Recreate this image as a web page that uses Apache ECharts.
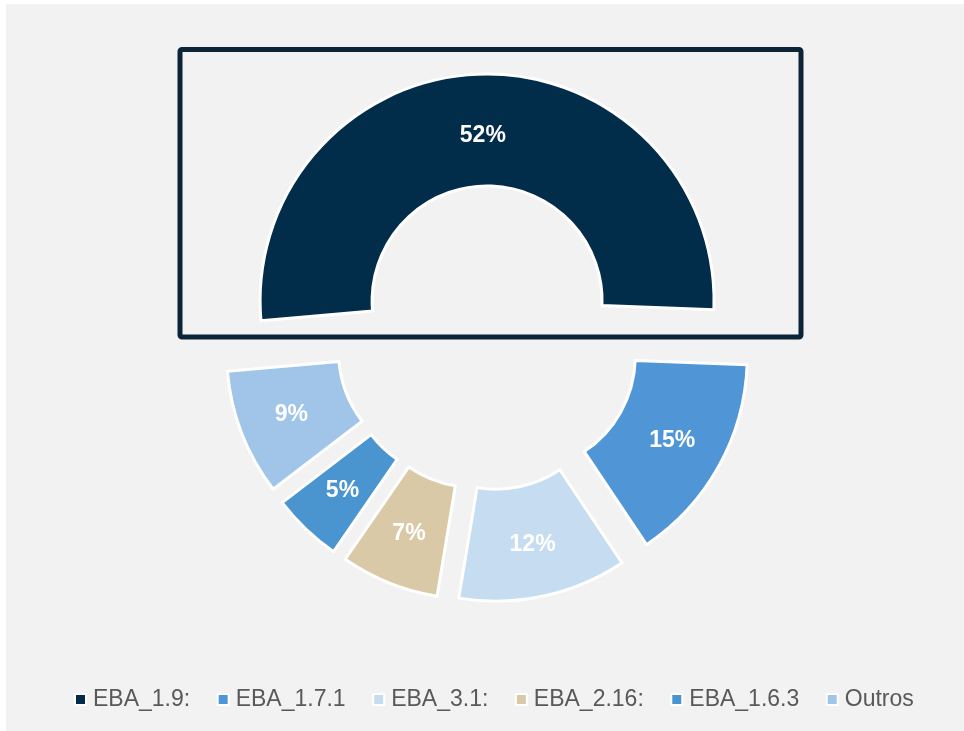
<!DOCTYPE html>
<html>
<head>
<meta charset="utf-8">
<script src="https://cdn.jsdelivr.net/npm/echarts@6/dist/echarts.min.js"></script>
<style>
  html, body { margin: 0; padding: 0; background: #fff; }
  #mychart1 { position: absolute; left: 6px; top: 4px; width: 958px; height: 727px; }
</style>
</head>
<body>
<div id="mychart1"></div>
<script>
// 数据
const categories = ['EBA_1.9:', 'EBA_1.7.1', 'EBA_3.1:', 'EBA_2.16:', 'EBA_1.6.3', 'Outros'];
const values = [52, 15, 12, 7, 5, 9];

const palette = ['#022d4a', '#5096d6', '#c6ddf1', '#d9c9a6', '#4a94d0', '#a0c5e9'];

const pieData = categories.map((name, i) => ({
  name: name,
  value: values[i],
  selected: true, // 所有扇区都分离
  itemStyle: { color: palette[i] }
}));

const option = {
  backgroundColor: '#f2f2f2',
  animation: false,
  textStyle: { fontFamily: 'Liberation Sans, Arial, sans-serif' },
  legend: {
    data: categories,
    left: 63,
    top: 679,
    icon: 'rect',
    itemWidth: 11,
    itemHeight: 11,
    itemGap: 26.5,
    selectedMode: false,
    itemStyle: { borderColor: '#fff', borderWidth: 2 },
    textStyle: { color: '#595959', fontSize: 23, padding: [0, 0, 0, 2] }
  },
  series: [
    {
      type: 'pie',
      center: [482, 334],
      radius: [115, 227],
      startAngle: 185,
      clockwise: true,
      selectedMode: 'multiple',
      selectedOffset: 37,
      data: pieData,
      itemStyle: { borderColor: '#fff', borderWidth: 3 },
      select: { itemStyle: { borderColor: '#fff', borderWidth: 3 } },
      emphasis: { disabled: true },
      label: {
        show: true,
        position: 'inside',
        formatter: '{c}%',
        color: '#fff',
        fontSize: 23,
        fontWeight: 'bold'
      },
      // 最大扇区的标签稍微往下
      labelLayout: function (params) {
        return params.dataIndex === 0 ? { dy: 9 } : {};
      },
      labelLine: { show: false }
    }
  ],
  graphic: [
    {
      // 52% 外框
      type: 'rect',
      z: 100,
      shape: { x: 174, y: 45.5, width: 621, height: 287.5, r: 2 },
      style: { fill: 'none', stroke: '#0b2438', lineWidth: 5 }
    }
  ]
};

const myChart = echarts.init(document.getElementById('mychart1'));
myChart.setOption(option);
window.addEventListener('resize', () => {
  myChart.resize();
});
</script>
</body>
</html>
